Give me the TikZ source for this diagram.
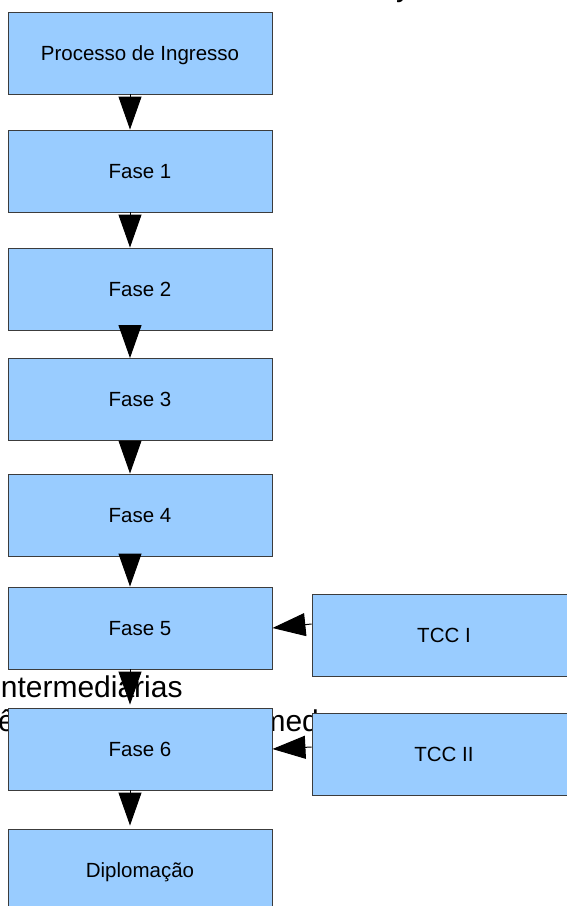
\documentclass[tikz,border=0pt]{standalone}
\usepackage{fontspec}
\setmainfont{Liberation Sans}
\usetikzlibrary{arrows.meta}
\definecolor{boxblue}{HTML}{99CCFF}
\definecolor{boxline}{HTML}{3C3C3C}
\tikzset{
  stepbox/.style={draw=boxline, line width=0.9pt, fill=boxblue, minimum width=264pt, minimum height=82pt, inner sep=0pt, text height=14pt, text depth=0pt, font=\fontsize{20.5}{24}\selectfont},
  flowarrow/.style={line width=1pt, -{Triangle[width=23pt,length=33pt]}},
  bgtext/.style={inner sep=0pt, anchor=base west, font=\fontsize{30}{36}\selectfont}
}
\begin{document}
\begin{tikzpicture}[x=1pt,y=-1pt]
\useasboundingbox (0,0) rectangle (567,906);
% partial background texts
\node[bgtext] (ty) at (396,-4) {y};
\node[bgtext] (t1) at (-6,697) {intermediarias};
\node[bgtext] (t2a) at (-2,731) {ê};
\node[bgtext] (t2b) at (202,731) {intermed};
% boxes
\node[stepbox] (P) at (140,53) {Processo de Ingresso};
\node[stepbox] (F1) at (140,171) {Fase 1};
\node[stepbox] (F2) at (140,289) {Fase 2};
\node[stepbox] (F3) at (140,399.5) {Fase 3};
\node[stepbox] (F4) at (140,515) {Fase 4};
\node[stepbox] (F5) at (140,628) {Fase 5};
\node[stepbox] (F6) at (140,749) {Fase 6};
\node[stepbox] (D) at (140,870) {Diplomação};
\node[stepbox] (T1) at (444,635) {TCC I};
\node[stepbox] (T2) at (444,754) {TCC II};
% arrows
\draw[flowarrow] ([xshift=-10pt]P.south) -- ([xshift=-10pt]F1.north);
\draw[flowarrow] ([xshift=-10pt]F1.south) -- ([xshift=-10pt]F2.north);
\draw[flowarrow] ([xshift=-10pt]F2.south) -- ([xshift=-10pt]F3.north);
\draw[flowarrow] ([xshift=-10pt]F3.south) -- ([xshift=-10pt]F4.north);
\draw[flowarrow] ([xshift=-10pt]F4.south) -- ([xshift=-10pt]F5.north);
\draw[flowarrow, shorten >=3pt] ([xshift=-10pt]F5.south) -- ([xshift=-10pt]F6.north);
\draw[flowarrow, shorten >=3pt] ([xshift=-10pt]F6.south) -- ([xshift=-10pt]D.north);
\draw[flowarrow] ([yshift=11pt]T1.west) -- (F5.east);
\draw[flowarrow] ([yshift=7pt]T2.west) -- (F6.east);
\end{tikzpicture}
\end{document}
